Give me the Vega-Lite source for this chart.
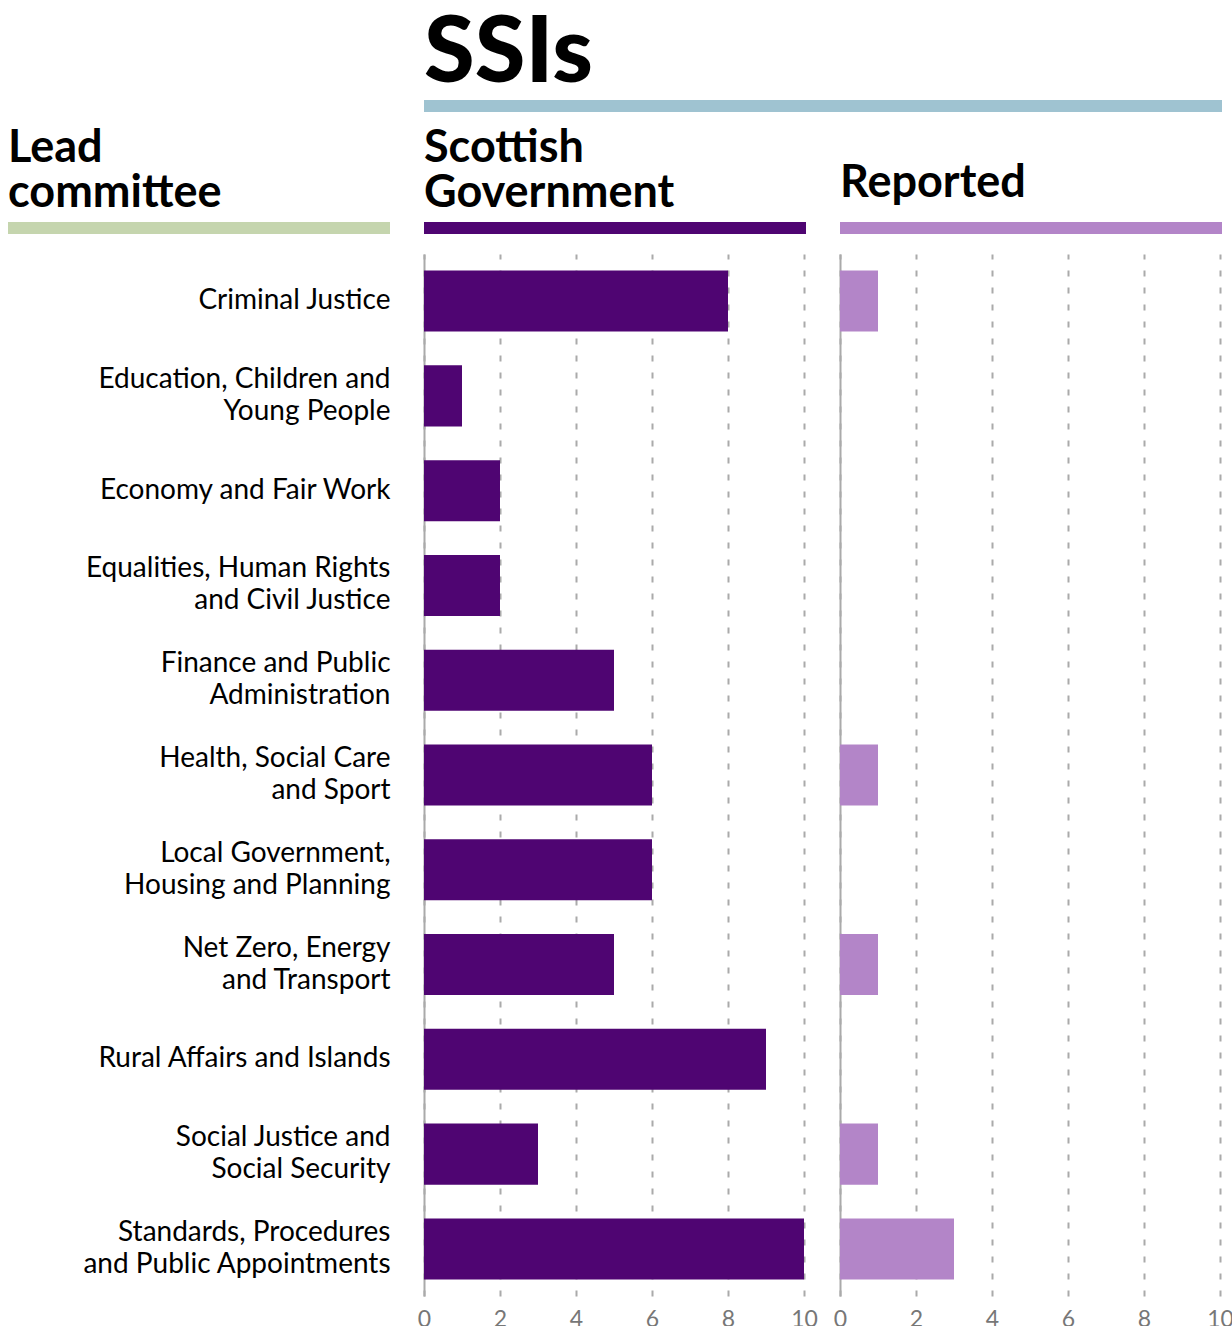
{
  "$schema": "https://vega.github.io/schema/vega-lite/v6.json",
  "padding": {"left": 8, "top": 8, "right": 0, "bottom": 0},
  "background": "white",
  "config": {
    "view": {"stroke": null},
    "font": "Lato",
    "title": {"font": "Lato", "anchor": "start", "color": "#000", "fontWeight": "bold", "fontSize": 45, "lineHeight": 45, "offset": 6},
    "axis": {"labelFont": "Lato", "titleFont": "Lato"}
  },
  "datasets": {
    "committees": [
      {"committee": "Criminal Justice", "sg": 8, "reported": 1},
      {"committee": "Education, Children and\nYoung People", "sg": 1, "reported": 0},
      {"committee": "Economy and Fair Work", "sg": 2, "reported": 0},
      {"committee": "Equalities, Human Rights\nand Civil Justice", "sg": 2, "reported": 0},
      {"committee": "Finance and Public\nAdministration", "sg": 5, "reported": 0},
      {"committee": "Health, Social Care\nand Sport", "sg": 6, "reported": 1},
      {"committee": "Local Government,\nHousing and Planning", "sg": 6, "reported": 0},
      {"committee": "Net Zero, Energy\nand Transport", "sg": 5, "reported": 1},
      {"committee": "Rural Affairs and Islands", "sg": 9, "reported": 0},
      {"committee": "Social Justice and\nSocial Security", "sg": 3, "reported": 1},
      {"committee": "Standards, Procedures\nand Public Appointments", "sg": 10, "reported": 3}
    ]
  },
  "bounds": "flush",
  "spacing": 122,
  "vconcat": [
    {
      "bounds": "flush",
      "spacing": 34,
      "hconcat": [
        {"width": 382, "height": 12, "data": {"values": []}, "mark": "point"},
        {
          "width": 798, "height": 12,
          "title": {"text": "SSIs", "fontSize": 92, "fontWeight": 900, "offset": -1},
          "data": {"values": [{"header": "SSIs"}]},
          "mark": {"type": "rect", "color": "#9fc3d1"}
        }
      ]
    },
    {
      "columns": 3,
      "bounds": "flush",
      "spacing": {"row": 20, "column": 34},
      "concat": [
        {
          "width": 382, "height": 12,
          "title": {"text": ["Lead", "committee"], "offset": 6},
          "data": {"values": [{"header": "Lead committee"}]},
          "mark": {"type": "rect", "color": "#c5d5ae"}
        },
        {
          "width": 382, "height": 12,
          "title": {"text": ["Scottish", "Government"], "offset": 6},
          "data": {"values": [{"header": "Scottish Government"}]},
          "mark": {"type": "rect", "color": "#4f0572"}
        },
        {
          "width": 382, "height": 12,
          "title": {"text": "Reported", "offset": 16},
          "data": {"values": [{"header": "Reported"}]},
          "mark": {"type": "rect", "color": "#b385c8"}
        },
        {"width": 382, "height": 1042, "data": {"values": []}, "mark": "point"},
        {
          "width": 380, "height": 1042,
          "data": {"name": "committees"},
          "mark": {"type": "bar", "color": "#4f0572"},
          "encoding": {
            "y": {
              "field": "committee", "type": "nominal", "sort": null, "title": null,
              "scale": {"paddingInner": 0.356, "paddingOuter": 0.175},
              "axis": {
                "labelExpr": "split(datum.label, '\\n')",
                "labelOffset": {"condition": {"test": "indexof(datum.value, '\\n') >= 0", "value": -16}, "value": 0},
                "labelFontSize": 28, "labelColor": "#000", "labelLineHeight": 32, "labelPadding": 34, "ticks": false, "domainColor": "#aaa", "domainWidth": 2, "labelLimit": 400
              }
            },
            "x": {
              "field": "sg", "type": "quantitative", "title": null,
              "scale": {"domain": [0, 10], "nice": false},
              "axis": {"values": [0, 2, 4, 6, 8, 10], "grid": true, "gridDash": [6, 11], "gridColor": "#aaa", "gridWidth": 2, "domain": false, "ticks": false, "labelFontSize": 23, "labelColor": "#777", "labelPadding": 12, "labelFlush": false}
            }
          }
        },
        {
          "width": 380, "height": 1042,
          "data": {"name": "committees"},
          "mark": {"type": "bar", "color": "#b385c8"},
          "encoding": {
            "y": {
              "field": "committee", "type": "nominal", "sort": null, "title": null,
              "scale": {"paddingInner": 0.356, "paddingOuter": 0.175},
              "axis": {"labels": false, "ticks": false, "domainColor": "#aaa", "domainWidth": 2}
            },
            "x": {
              "field": "reported", "type": "quantitative", "title": null,
              "scale": {"domain": [0, 10], "nice": false},
              "axis": {"values": [0, 2, 4, 6, 8, 10], "grid": true, "gridDash": [6, 11], "gridColor": "#aaa", "gridWidth": 2, "domain": false, "ticks": false, "labelFontSize": 23, "labelColor": "#777", "labelPadding": 12, "labelFlush": false}
            }
          }
        }
      ]
    }
  ]
}
